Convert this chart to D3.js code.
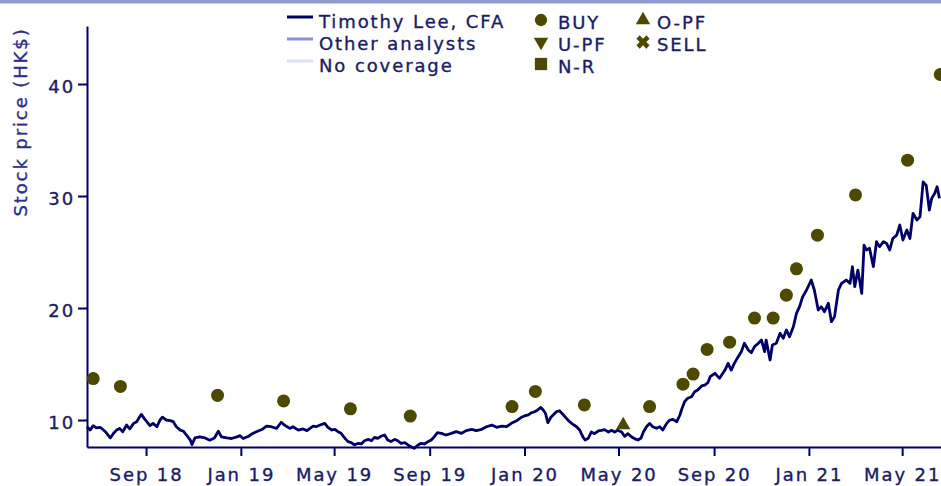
<!DOCTYPE html>
<html>
<head>
<meta charset="utf-8">
<script src="https://cdn.jsdelivr.net/npm/d3@7"></script>
<style>
    html, body { margin: 0; padding: 0; background: #fff; }
    svg { display: block; font-family: "DejaVu Sans", Verdana, sans-serif; }
</style>
</head>
<body>
<div id="chart"></div>
<script>
// closing price
const priceSeries = [
    ["2018-06-17", 9.4], ["2018-06-21", 9.1], ["2018-06-25", 9.5], ["2018-06-29", 9.3], ["2018-07-04", 9.35],
    ["2018-07-10", 9.0], ["2018-07-17", 8.4], ["2018-07-21", 8.8], ["2018-07-25", 9.1], ["2018-07-29", 9.25],
    ["2018-08-02", 8.95], ["2018-08-07", 9.55], ["2018-08-11", 9.2], ["2018-08-16", 9.7], ["2018-08-20", 9.85],
    ["2018-08-23", 10.2], ["2018-08-26", 10.5], ["2018-08-30", 10.1], ["2018-09-02", 9.85], ["2018-09-06", 9.5],
    ["2018-09-10", 9.7], ["2018-09-15", 9.4], ["2018-09-19", 10.0], ["2018-09-22", 10.25], ["2018-09-27", 10.0],
    ["2018-10-02", 9.95], ["2018-10-06", 9.85], ["2018-10-10", 9.4], ["2018-10-15", 9.1], ["2018-10-19", 9.0],
    ["2018-10-23", 8.66], ["2018-10-28", 8.2], ["2018-10-30", 7.8], ["2018-11-03", 8.4], ["2018-11-09", 8.5],
    ["2018-11-16", 8.4], ["2018-11-22", 8.2], ["2018-11-28", 8.4], ["2018-12-03", 9.0], ["2018-12-07", 8.5],
    ["2018-12-14", 8.4], ["2018-12-20", 8.35], ["2018-12-27", 8.5], ["2018-12-31", 8.6], ["2019-01-04", 8.35],
    ["2019-01-11", 8.55], ["2019-01-15", 8.75], ["2019-01-21", 8.95], ["2019-01-28", 9.15], ["2019-02-03", 9.45],
    ["2019-02-09", 9.4], ["2019-02-16", 9.25], ["2019-02-22", 9.8], ["2019-02-26", 9.55], ["2019-03-05", 9.25],
    ["2019-03-09", 9.4], ["2019-03-16", 9.1], ["2019-03-22", 9.2], ["2019-03-27", 9.05], ["2019-03-31", 9.26],
    ["2019-04-04", 9.46], ["2019-04-08", 9.4], ["2019-04-13", 9.55], ["2019-04-19", 9.7], ["2019-04-23", 9.35],
    ["2019-04-28", 9.11], ["2019-05-02", 9.17], ["2019-05-06", 8.96], ["2019-05-10", 8.81], ["2019-05-15", 8.36],
    ["2019-05-19", 8.07], ["2019-05-23", 7.98], ["2019-05-27", 7.77], ["2019-06-01", 7.92], ["2019-06-05", 7.86],
    ["2019-06-09", 8.15], ["2019-06-14", 8.27], ["2019-06-18", 8.15], ["2019-06-22", 8.45], ["2019-06-26", 8.36],
    ["2019-07-01", 8.57], ["2019-07-05", 8.66], ["2019-07-09", 8.21], ["2019-07-13", 8.07], ["2019-07-18", 8.27],
    ["2019-07-22", 8.15], ["2019-07-26", 7.92], ["2019-07-31", 7.98], ["2019-08-04", 7.77], ["2019-08-08", 7.62],
    ["2019-08-12", 7.47], ["2019-08-17", 7.77], ["2019-08-21", 7.92], ["2019-08-25", 7.86], ["2019-08-30", 8.07],
    ["2019-09-03", 8.21], ["2019-09-07", 8.51], ["2019-09-11", 8.87], ["2019-09-16", 8.81], ["2019-09-22", 8.66],
    ["2019-09-29", 8.81], ["2019-10-05", 8.96], ["2019-10-12", 8.81], ["2019-10-18", 9.05], ["2019-10-25", 9.17],
    ["2019-10-31", 9.05], ["2019-11-07", 9.17], ["2019-11-13", 9.4], ["2019-11-20", 9.55], ["2019-11-26", 9.35],
    ["2019-12-03", 9.46], ["2019-12-09", 9.4], ["2019-12-15", 9.7], ["2019-12-22", 9.94], ["2019-12-28", 10.24],
    ["2020-01-01", 10.36], ["2020-01-06", 10.45], ["2020-01-10", 10.65], ["2020-01-14", 10.74], ["2020-01-18", 10.9],
    ["2020-01-22", 11.13], ["2020-01-25", 10.89], ["2020-01-28", 10.6], ["2020-01-31", 9.76], ["2020-02-04", 10.24],
    ["2020-02-07", 10.45], ["2020-02-11", 10.74], ["2020-02-15", 10.83], ["2020-02-19", 10.54], ["2020-02-24", 10.15],
    ["2020-02-28", 9.85], ["2020-03-03", 9.64], ["2020-03-08", 9.4], ["2020-03-12", 9.11], ["2020-03-16", 8.51],
    ["2020-03-19", 8.21], ["2020-03-23", 8.36], ["2020-03-27", 8.93], ["2020-03-31", 8.78], ["2020-04-05", 9.02],
    ["2020-04-09", 9.08], ["2020-04-13", 9.14], ["2020-04-18", 8.93], ["2020-04-22", 9.08], ["2020-04-26", 8.93],
    ["2020-04-30", 9.08], ["2020-05-05", 8.93], ["2020-05-09", 8.54], ["2020-05-13", 8.78], ["2020-05-18", 8.48],
    ["2020-05-22", 8.32], ["2020-05-26", 8.21], ["2020-05-30", 8.39], ["2020-06-02", 8.93], ["2020-06-06", 9.4],
    ["2020-06-10", 9.7], ["2020-06-14", 9.4], ["2020-06-19", 9.26], ["2020-06-23", 9.4], ["2020-06-27", 9.11],
    ["2020-07-02", 9.7], ["2020-07-06", 10.0], ["2020-07-10", 10.06], ["2020-07-15", 9.85], ["2020-07-19", 10.45],
    ["2020-07-21", 10.89], ["2020-07-25", 11.64], ["2020-07-29", 11.94], ["2020-08-03", 12.08], ["2020-08-07", 12.53],
    ["2020-08-11", 12.68], ["2020-08-16", 13.04], ["2020-08-20", 13.12], ["2020-08-24", 13.33], ["2020-08-27", 13.87],
    ["2020-09-02", 14.17], ["2020-09-08", 13.72], ["2020-09-15", 14.46], ["2020-09-19", 15.06], ["2020-09-23", 14.46],
    ["2020-09-27", 15.06], ["2020-10-02", 15.65], ["2020-10-06", 16.1], ["2020-10-10", 16.85], ["2020-10-15", 16.25],
    ["2020-10-19", 16.01], ["2020-10-23", 16.55], ["2020-10-28", 16.85], ["2020-11-01", 17.14], ["2020-11-05", 16.1],
    ["2020-11-07", 17.14], ["2020-11-12", 15.36], ["2020-11-15", 16.7], ["2020-11-20", 16.85], ["2020-11-25", 17.74],
    ["2020-11-29", 17.29], ["2020-12-03", 18.04], ["2020-12-07", 17.44], ["2020-12-12", 18.33], ["2020-12-16", 19.52],
    ["2020-12-20", 20.12], ["2020-12-24", 21.01], ["2020-12-29", 21.61], ["2021-01-04", 22.5], ["2021-01-08", 21.61],
    ["2021-01-13", 19.82], ["2021-01-17", 20.12], ["2021-01-21", 19.67], ["2021-01-26", 20.42], ["2021-01-30", 18.78],
    ["2021-02-03", 19.23], ["2021-02-08", 21.61], ["2021-02-12", 22.2], ["2021-02-18", 22.5], ["2021-02-23", 22.2],
    ["2021-02-26", 23.69], ["2021-03-01", 21.91], ["2021-03-05", 23.39], ["2021-03-10", 21.31], ["2021-03-13", 25.62],
    ["2021-03-16", 25.18], ["2021-03-20", 25.33], ["2021-03-25", 23.69], ["2021-03-29", 25.92], ["2021-04-02", 25.48],
    ["2021-04-07", 25.92], ["2021-04-11", 25.77], ["2021-04-15", 25.18], ["2021-04-19", 26.21], ["2021-04-24", 26.51],
    ["2021-04-28", 27.41], ["2021-05-02", 26.07], ["2021-05-07", 26.96], ["2021-05-11", 26.21], ["2021-05-15", 28.45],
    ["2021-05-20", 27.86], ["2021-05-24", 28.15], ["2021-05-28", 31.25], ["2021-06-01", 30.95], ["2021-06-05", 28.75],
    ["2021-06-08", 29.79], ["2021-06-12", 30.24], ["2021-06-15", 30.83], ["2021-06-18", 29.79]
];

// rating changes: date, target price, call
const ratingDates = ["2018-06-25", "2018-07-30", "2018-12-02", "2019-02-25", "2019-05-22", "2019-08-07",
    "2019-12-16", "2020-01-15", "2020-03-18", "2020-05-07", "2020-06-10", "2020-07-23", "2020-08-05",
    "2020-08-23", "2020-09-21", "2020-10-23", "2020-11-16", "2020-12-03", "2020-12-16", "2021-01-12",
    "2021-03-02", "2021-05-08", "2021-06-19"];
const ratingTargets = [13.7, 13.0, 12.2, 11.7, 11.0, 10.35, 11.2, 12.55, 11.35, 9.55, 11.2, 13.2, 14.1,
    16.3, 16.95, 19.1, 19.1, 21.15, 23.5, 26.5, 30.1, 33.2, 40.85];
const ratingCalls = ["BUY", "BUY", "BUY", "BUY", "BUY", "BUY", "BUY", "BUY", "BUY", "O-PF", "BUY", "BUY",
    "BUY", "BUY", "BUY", "BUY", "BUY", "BUY", "BUY", "BUY", "BUY", "BUY", "BUY"];

const xTickDates = ["2018-09-01", "2019-01-01", "2019-05-01", "2019-09-01", "2020-01-01",
    "2020-05-01", "2020-09-01", "2021-01-01", "2021-05-01"];
const yTickValues = [10, 20, 30, 40];
const xDomain = ["2018-06-17", "2021-06-20"];
const yDomain = [7.59, 45.18];

const coverageLegend = ["Timothy Lee, CFA", "Other analysts", "No coverage"];
const ratingLegend = ["BUY", "U-PF", "N-R", "O-PF", "SELL"];

const navy = "#000066";
const olive = "#4d4a00";
const textColor = "#1b1b66";

const width = 941, height = 486;
const margin = { top: 26, right: 0, bottom: 39, left: 87 };
const parse = d3.timeParse("%Y-%m-%d");

const svg = d3.select("#chart").append("svg")
    .attr("width", width)
    .attr("height", height);

// thin band along the top edge
svg.append("rect")
    .attr("x", 0).attr("y", 0)
    .attr("width", width).attr("height", 3.5)
    .attr("fill", "#8d9ccf");

const x = d3.scaleTime()
    .domain(xDomain.map(parse))
    .range([margin.left, width - margin.right]);

const y = d3.scaleLinear()
    .domain(yDomain)
    .range([height - margin.bottom, margin.top]);

// text looks a touch heavier than plain DejaVu, so give it a hairline stroke
function heavyText(sel, color) {
    sel.attr("fill", color)
        .attr("stroke", color)
        .attr("stroke-width", 0.35)
        .style("font-size", "18px")
        .style("letter-spacing", "1.9px")
        .style("font-family", "'DejaVu Sans', Verdana, sans-serif");
}

const xAxis = svg.append("g")
    .attr("transform", `translate(0,${height - margin.bottom})`)
    .call(d3.axisBottom(x)
        .tickValues(xTickDates.map(parse))
        .tickFormat(d3.timeFormat("%b %y"))
        .tickSize(9)
        .tickSizeOuter(0)
        .tickPadding(12.5));

const yAxis = svg.append("g")
    .attr("transform", `translate(${margin.left},0)`)
    .call(d3.axisLeft(y)
        .tickValues(yTickValues)
        .tickSize(9)
        .tickSizeOuter(0)
        .tickPadding(3));

yAxis.selectAll(".tick text").attr("dy", "0.47em");

[xAxis, yAxis].forEach(ax => {
    ax.select(".domain").attr("stroke", navy).attr("stroke-width", 2);
    ax.selectAll(".tick line").attr("stroke", navy).attr("stroke-width", 2);
    ax.selectAll(".tick text").call(heavyText, textColor);
});

svg.append("text")
    .attr("transform", `translate(27,122) rotate(-90)`)
    .attr("text-anchor", "middle")
    .call(heavyText, "#2e2e8a")
    .text("Stock price (HK$)");

// price line
const line = d3.line()
    .x(d => x(parse(d[0])))
    .y(d => y(d[1]));

svg.append("path")
    .datum(priceSeries)
    .attr("d", line)
    .attr("fill", "none")
    .attr("stroke", navy)
    .attr("stroke-width", 2.8)
    .attr("stroke-linejoin", "round");

// rating markers
const symbolFor = {
    "BUY": d3.symbol().type(d3.symbolCircle).size(133),
    "O-PF": d3.symbol().type(d3.symbolTriangle).size(90),
    "U-PF": d3.symbol().type(d3.symbolTriangle).size(90),
    "N-R": d3.symbol().type(d3.symbolSquare).size(160),
    "SELL": d3.symbol().type(d3.symbolCross).size(110)
};
const rotateFor = { "U-PF": 180, "SELL": 45 };

svg.append("g")
    .selectAll("path")
    .data(ratingDates.map((d, i) => ({ date: parse(d), target: ratingTargets[i], call: ratingCalls[i] })))
    .join("path")
    .attr("d", d => symbolFor[d.call]())
    .attr("transform", d => `translate(${x(d.date)},${y(d.target)}) rotate(${rotateFor[d.call] || 0})`)
    .attr("fill", olive);

// legend
const legend = svg.append("g");

const swatchColors = [navy, "#8a90d2", "#dde2f2"];
coverageLegend.forEach((label, i) => {
    const row = legend.append("g").attr("transform", `translate(287,${17 + i * 22})`);
    row.append("line")
        .attr("x1", 0).attr("x2", 26)
        .attr("stroke", swatchColors[i])
        .attr("stroke-width", 3);
    row.append("text").attr("x", 32).attr("y", 11).call(heavyText, textColor).text(label);
});

ratingLegend.forEach((label, i) => {
    const col = i < 3 ? 0 : 1;
    const r = i < 3 ? i : i - 3;
    const row = legend.append("g").attr("transform", `translate(${541 + col * 102},${20 + r * 22})`);
    const sym = label === "BUY" ? d3.symbol().type(d3.symbolCircle).size(120)
        : label === "N-R" ? d3.symbol().type(d3.symbolSquare).size(150)
        : symbolFor[label];
    row.append("path")
        .attr("d", sym())
        .attr("transform", `rotate(${rotateFor[label] || 0})`)
        .attr("fill", olive);
    row.append("text").attr("x", col === 0 ? 17 : 14).attr("y", 8.5).call(heavyText, textColor).text(label);
});
</script>
</body>
</html>
